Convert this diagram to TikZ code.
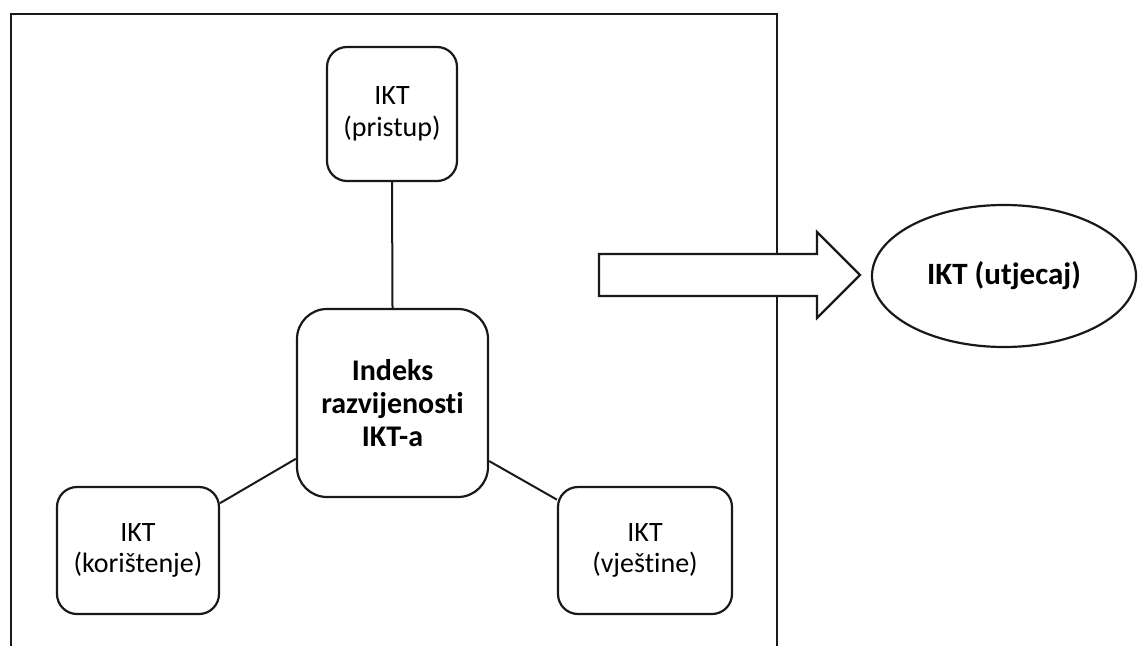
\documentclass[tikz,border=0pt]{standalone}
\usepackage{fontspec}
\setmainfont{Carlito}[Ligatures={NoCommon,NoContextual,NoRare}]
\usetikzlibrary{shapes.geometric}
\begin{document}
\begin{tikzpicture}[x=0.5pt,y=-0.5pt,
  frame/.style={draw=black!90, line width=1.1pt},
  box/.style={draw=black!90, line width=1.1pt, fill=white, rounded corners=10pt,
    align=center, inner sep=0pt, font=\fontsize{14pt}{15.8pt}\selectfont},
  mainbox/.style={box, rounded corners=15pt,
    font=\fontsize{15pt}{16.7pt}\selectfont\bfseries},
  link/.style={draw=black!90, line width=1pt},
  blockarrow/.style={draw=black!90, line width=1.1pt, fill=white, line join=miter},
  outcome/.style={draw=black!90, line width=1.1pt, ellipse, inner sep=0pt,
    minimum width=132pt, minimum height=71pt,
    font=\fontsize{15.5pt}{17pt}\selectfont\bfseries}]
\useasboundingbox (0,0) rectangle (1138,646);
\clip (0,0) rectangle (1138,646);

% outer frame (runs off the bottom edge)
\draw[frame] (11,14) rectangle (777,680);

% index and its three components
\coordinate (hub) at (392.5,403);
\node[mainbox, minimum width=95.5pt, minimum height=94pt] (index) at (hub)
  {Indeks\\razvijenosti\\IKT-a};
\node[box, minimum width=65pt, minimum height=67pt] (access) at (392,114) {IKT\\(pristup)};
\node[box, minimum width=81pt, minimum height=63.5pt] (use) at (138,550.5) {IKT\\(korištenje)};
\node[box, minimum width=87pt, minimum height=63.5pt] (skills) at (645,550.5) {IKT\\(vještine)};

% connectors
\draw[link] (access.south) -- (index.north);
\draw[link] (index.210.8) -- (use.30.4);
\draw[link] (index.329.2) -- (skills.150.9);

% block arrow towards the impact ellipse
\coordinate (a1) at (599,254);
\coordinate (a2) at (817,254);
\coordinate (a3) at (817,232);
\coordinate (a4) at (860,275);
\coordinate (a5) at (817,318);
\coordinate (a6) at (817,296);
\coordinate (a7) at (599,296);
\draw[blockarrow] (a1) -- (a2) -- (a3) -- (a4) -- (a5) -- (a6) -- (a7) -- cycle;

\node[outcome] (impact) at (1004,276) {IKT (utjecaj)};
\end{tikzpicture}
\end{document}
